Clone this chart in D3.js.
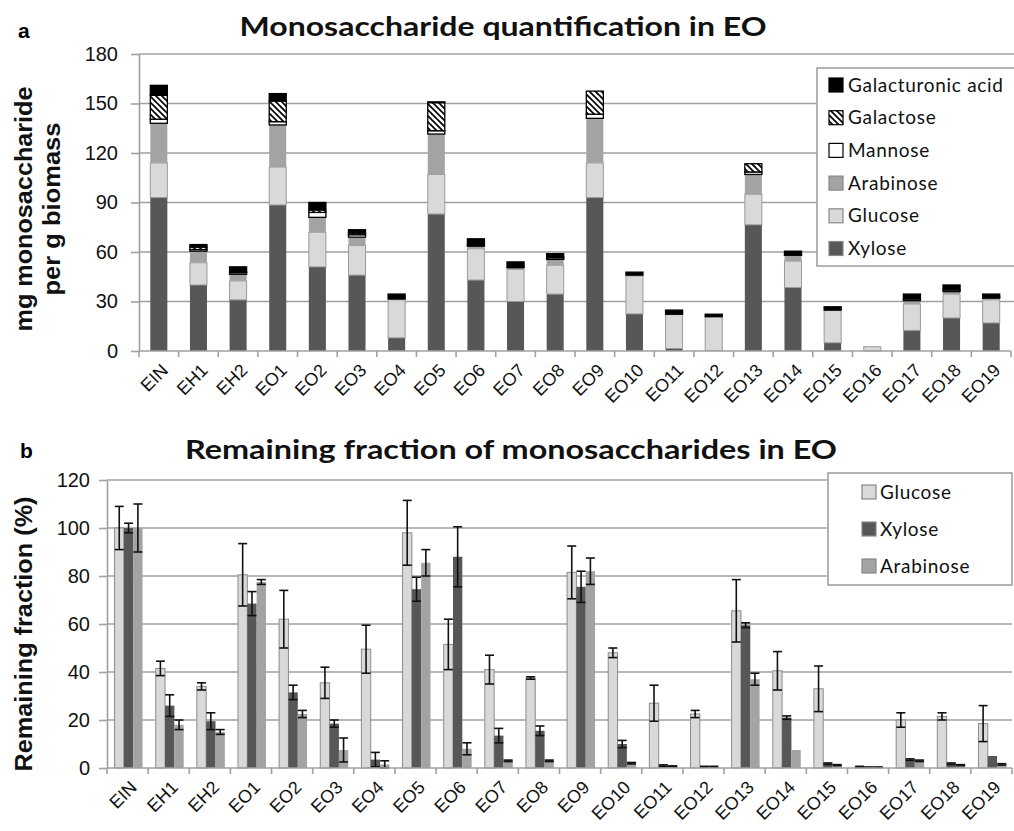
<!DOCTYPE html>
<html><head><meta charset="utf-8">
<script src="https://cdn.jsdelivr.net/npm/d3@7"></script>
<style>body{margin:0;background:#fff}svg{display:block}</style>
</head><body>
<svg id="c" width="1014" height="831"></svg>
<script>
// ---------- DATA ----------
const categories = ["EIN","EH1","EH2","EO1","EO2","EO3","EO4","EO5","EO6","EO7","EO8","EO9","EO10","EO11","EO12","EO13","EO14","EO15","EO16","EO17","EO18","EO19"];
// Panel a: mg monosaccharide per g biomass (stacked)
const xyloseA   = [93,40,31,88.5,51,46,8,83,43,30,34.5,93,22.5,1.5,0.3,76.5,38.5,5,0.2,12.5,20,17];
const glucoseA  = [21,13.5,11.5,23,21,18,23,24,19,19.5,17.5,21,23,20.5,20.5,18.5,16,19.5,2.4,16,14.5,14];
const arabinoseA= [24,7,4,25.5,9,5,0.5,24.5,1.5,1,3.5,27,0.5,0.3,0,12,3.5,0.3,0,2,1.5,1];
const mannoseA  = [2.5,1,1,2,3,1.5,0,2,0.5,0.5,1,2.5,0,0,0,1.5,0.5,0,0,1,1,0.5];
const galactoseA= [14.5,1.5,0.5,12.5,1.5,1,0,17,0,0,0.5,14,0,0,0,5,0,0,0,0,0,0];
const galAcidA  = [6,1.5,3,4.5,4.5,2,3,0.5,4,3,2,0,1.8,2.5,1.5,0,2,2,0,3,3,2];
const seriesA = ["Xylose","Glucose","Arabinose","Mannose","Galactose","Galacturonic acid"];
const yTicksA = [0,30,60,90,120,150,180];
// Panel b: remaining fraction (%) with error
const glucoseB   = [100,41.5,34,80.5,62,35.5,49.5,98,51.5,41,37.5,81.5,48,27,22.5,65.5,40.5,33,0.5,20,21.5,18.5];
const glucoseErr = [9,3,1.5,13,12,6.5,10,13.5,10.5,6,0.5,11,2,7.5,1.5,13,8,9.5,0.2,3,1.5,7.5];
const xyloseB    = [100,26,19.5,68.5,31.5,18.5,3.5,74.5,88,13.5,15.5,75.5,10,1,0.5,59.5,21,1.8,0.3,3.5,1.8,5];
const xyloseErr  = [2,4.5,3.5,5,3,1.5,3,5,12.5,3,2,6.5,1.5,0.3,0.2,1,0.7,0.3,0.1,0.3,0.3,0];
const arabinoseB = [100,18,15,77.5,22.5,7.5,1.5,85.5,8,3,3,82,2,0.7,0.5,37,7.5,1.2,0.3,3,1.2,1.5];
const arabinoseErr=[10,2,1,1,1.5,5,1.5,5.5,2.5,0.3,0.3,5.5,0.3,0.2,0.2,2.5,0,0.2,0.1,0.3,0.2,0.3];
const seriesB = ["Glucose","Xylose","Arabinose"];
const yTicksB = [0,20,40,60,80,100,120];

// ---------- STYLE ----------
const C = {Xylose:"#575757", Glucose:"#d9d9d9", Arabinose:"#a3a3a3", Mannose:"#ffffff", Galactose:"url(#hatch)", "Galacturonic acid":"#000000"};
const S = {Xylose:"none", Glucose:"#9a9a9a", Arabinose:"none", Mannose:"#000", Galactose:"#000", "Galacturonic acid":"#000"};
const grid = "#a0a0a0";
const svg = d3.select("#c");
const defs = svg.append("defs");
const pat = defs.append("pattern").attr("id","hatch").attr("patternUnits","userSpaceOnUse").attr("width",6).attr("height",6);
pat.append("rect").attr("width",6).attr("height",6).attr("fill","#fff");
pat.append("path").attr("d","M0,0 L6,6 M-3,3 L3,9 M3,-3 L9,3").attr("stroke","#000").attr("stroke-width",1.7);

const tickFont = "'Liberation Sans', Arial, sans-serif";
const titleFont = "Lato, 'Open Sans', sans-serif";

function drawAxes(g, x, y, yTicks, x0, x1, tickPad){
  g.append("g").selectAll("line").data(yTicks.filter(d=>d>0)).join("line")
    .attr("x1",x0).attr("x2",x1).attr("y1",d=>y(d)).attr("y2",d=>y(d))
    .attr("stroke",grid).attr("stroke-width",1.6);
  const ya = g.append("g").attr("transform",`translate(${x0},0)`)
    .call(d3.axisLeft(y).tickValues(yTicks).tickSizeInner(8).tickSizeOuter(0).tickPadding(tickPad));
  ya.select(".domain").attr("stroke",grid).attr("stroke-width",1.6);
  ya.selectAll(".tick line").attr("stroke",grid).attr("stroke-width",1.6);
  ya.selectAll(".tick text").attr("font-family",tickFont).attr("font-size",20).attr("fill","#111");
}
function drawXAxis(g, x, y0, x0, x1){
  g.append("line").attr("x1",x0).attr("x2",x1).attr("y1",y0).attr("y2",y0).attr("stroke",grid).attr("stroke-width",1.6);
  const bounds = categories.map(c=>x(c)).concat([x(categories[categories.length-1])+x.step()]);
  g.append("g").selectAll("line").data(bounds).join("line")
    .attr("x1",d=>d).attr("x2",d=>d).attr("y1",y0).attr("y2",y0+6).attr("stroke",grid).attr("stroke-width",1.6);
  g.append("g").selectAll("text").data(categories).join("text")
    .attr("transform",d=>`translate(${x(d)+x.bandwidth()/2+6},${y0+16}) rotate(-45)`)
    .attr("text-anchor","end").attr("dy","0.35em")
    .attr("font-family",tickFont).attr("font-size",18).attr("fill","#111").text(d=>d);
}

// ---------- PANEL A ----------
{
  const x0=139, x1=1011, yTop=54, yBot=351;
  const x = d3.scaleBand().domain(categories).range([x0,x1]).padding(0);
  const y = d3.scaleLinear().domain([0,180]).range([yBot,yTop]);
  const g = svg.append("g");
  drawAxes(g,x,y,yTicksA,x0,1014,13);
  const vals = {Xylose:xyloseA, Glucose:glucoseA, Arabinose:arabinoseA, Mannose:mannoseA, Galactose:galactoseA, "Galacturonic acid":galAcidA};
  const rows = categories.map((c,i)=>{const r={cat:c}; seriesA.forEach(s=>r[s]=vals[s][i]); return r;});
  const stack = d3.stack().keys(seriesA)(rows);
  const bw = x.bandwidth()*0.43;
  stack.forEach(layer=>{
    g.append("g").selectAll("rect").data(layer.filter(d=>d[1]-d[0]>0)).join("rect")
      .attr("x",d=>x(d.data.cat)+(x.bandwidth()-bw)/2).attr("width",bw)
      .attr("y",d=>y(d[1])).attr("height",d=>Math.max(0.5,y(d[0])-y(d[1])))
      .attr("fill",C[layer.key]).attr("stroke",S[layer.key]).attr("stroke-width",layer.key==="Glucose"?1:1.3);
  });
  drawXAxis(g,x,yBot,x0,x1);
  svg.append("text").attr("x",503).attr("y",36).attr("text-anchor","middle")
    .attr("font-family",titleFont).attr("font-weight","bold").attr("font-size",27)
    .attr("textLength",527).attr("lengthAdjust","spacingAndGlyphs").attr("fill","#111")
    .text("Monosaccharide quantification in EO");
  svg.append("text").attr("x",18).attr("y",38).attr("font-family",tickFont).attr("font-weight","bold").attr("font-size",21).text("a");
  const yt = svg.append("g").attr("transform","translate(0,209)");
  yt.append("text").attr("transform","translate(32,0) rotate(-90)").attr("text-anchor","middle")
    .attr("font-family",tickFont).attr("font-weight","bold").attr("font-size",23).attr("fill","#111")
    .attr("textLength",245).attr("lengthAdjust","spacingAndGlyphs").text("mg monosaccharide");
  yt.append("text").attr("transform","translate(60,0) rotate(-90)").attr("text-anchor","middle")
    .attr("font-family",tickFont).attr("font-weight","bold").attr("font-size",23).attr("fill","#111")
    .attr("textLength",173).attr("lengthAdjust","spacingAndGlyphs").text("per g biomass");
  const lg = svg.append("g");
  lg.append("rect").attr("x",817).attr("y",68).attr("width",210).attr("height",198).attr("fill","#fff").attr("stroke",grid).attr("stroke-width",1.6);
  const order = seriesA.slice().reverse();
  order.forEach((s,i)=>{
    const cy = 85 + i*32.7;
    lg.append("rect").attr("x",829).attr("y",cy-7).attr("width",14).attr("height",14)
      .attr("fill",C[s]).attr("stroke",s==="Glucose"||s==="Arabinose"||s==="Xylose"?"#888":"#000").attr("stroke-width",1.2);
    lg.append("text").attr("x",848).attr("y",cy).attr("dy","0.35em").attr("font-family",titleFont)
      .attr("font-size",19).attr("letter-spacing",0.7).attr("fill","#111").text(s);
  });
}

// ---------- PANEL B ----------
{
  const x0=107, x1=1012, yTop=480, yBot=768;
  const x = d3.scaleBand().domain(categories).range([x0,x1]).padding(0);
  const y = d3.scaleLinear().domain([0,120]).range([yBot,yTop]);
  const xs = d3.scaleBand().domain(seriesB).range([0,x.bandwidth()*0.68]);
  const g = svg.append("g");
  drawAxes(g,x,y,yTicksB,x0,x1,9);
  const vals = {Glucose:[glucoseB,glucoseErr], Xylose:[xyloseB,xyloseErr], Arabinose:[arabinoseB,arabinoseErr]};
  const off = x.bandwidth()*0.16+1;
  seriesB.forEach(s=>{
    const [v,e] = vals[s];
    const data = categories.map((c,i)=>({c,v:v[i],e:e[i]}));
    g.append("g").selectAll("rect").data(data).join("rect")
      .attr("x",d=>x(d.c)+off+xs(s)).attr("width",xs.bandwidth())
      .attr("y",d=>y(d.v)).attr("height",d=>yBot-y(d.v))
      .attr("fill",C[s]).attr("stroke",s==="Glucose"?"#8c8c8c":"none").attr("stroke-width",1);
  });
  seriesB.forEach(s=>{
    const [v,e] = vals[s];
    const data = categories.map((c,i)=>({c,v:v[i],e:e[i]})).filter(d=>d.e>0);
    const cx = d=>x(d.c)+off+xs(s)+xs.bandwidth()/2;
    const eg = g.append("g").attr("stroke","#111").attr("stroke-width",1.6);
    eg.selectAll(".v").data(data).join("line").attr("x1",cx).attr("x2",cx).attr("y1",d=>y(d.v+d.e)).attr("y2",d=>y(Math.max(0,d.v-d.e)));
    eg.selectAll(".t").data(data).join("line").attr("x1",d=>cx(d)-4.5).attr("x2",d=>cx(d)+4.5).attr("y1",d=>y(d.v+d.e)).attr("y2",d=>y(d.v+d.e));
    eg.selectAll(".b").data(data).join("line").attr("x1",d=>cx(d)-4.5).attr("x2",d=>cx(d)+4.5).attr("y1",d=>y(Math.max(0,d.v-d.e))).attr("y2",d=>y(Math.max(0,d.v-d.e)));
  });
  drawXAxis(g,x,yBot,x0,x1);
  svg.append("text").attr("x",511).attr("y",459).attr("text-anchor","middle")
    .attr("font-family",titleFont).attr("font-weight","bold").attr("font-size",26)
    .attr("textLength",652).attr("lengthAdjust","spacingAndGlyphs").attr("fill","#111")
    .text("Remaining fraction of monosaccharides in EO");
  svg.append("text").attr("x",20).attr("y",458).attr("font-family",tickFont).attr("font-weight","bold").attr("font-size",21).text("b");
  svg.append("text").attr("transform","translate(32,634) rotate(-90)").attr("text-anchor","middle")
    .attr("font-family",tickFont).attr("font-weight","bold").attr("font-size",24).attr("fill","#111")
    .attr("textLength",275).attr("lengthAdjust","spacingAndGlyphs").text("Remaining fraction (%)");
  const lg = svg.append("g");
  lg.append("rect").attr("x",828).attr("y",473).attr("width",184).attr("height",112).attr("fill","#fff").attr("stroke",grid).attr("stroke-width",1.6);
  seriesB.forEach((s,i)=>{
    const cy = 492 + i*37;
    lg.append("rect").attr("x",862).attr("y",cy-7).attr("width",14).attr("height",14)
      .attr("fill",C[s]).attr("stroke","#888").attr("stroke-width",1.2);
    lg.append("text").attr("x",880).attr("y",cy).attr("dy","0.35em").attr("font-family",titleFont)
      .attr("font-size",19).attr("letter-spacing",0.7).attr("fill","#111").text(s);
  });
}
</script>
</body></html>
